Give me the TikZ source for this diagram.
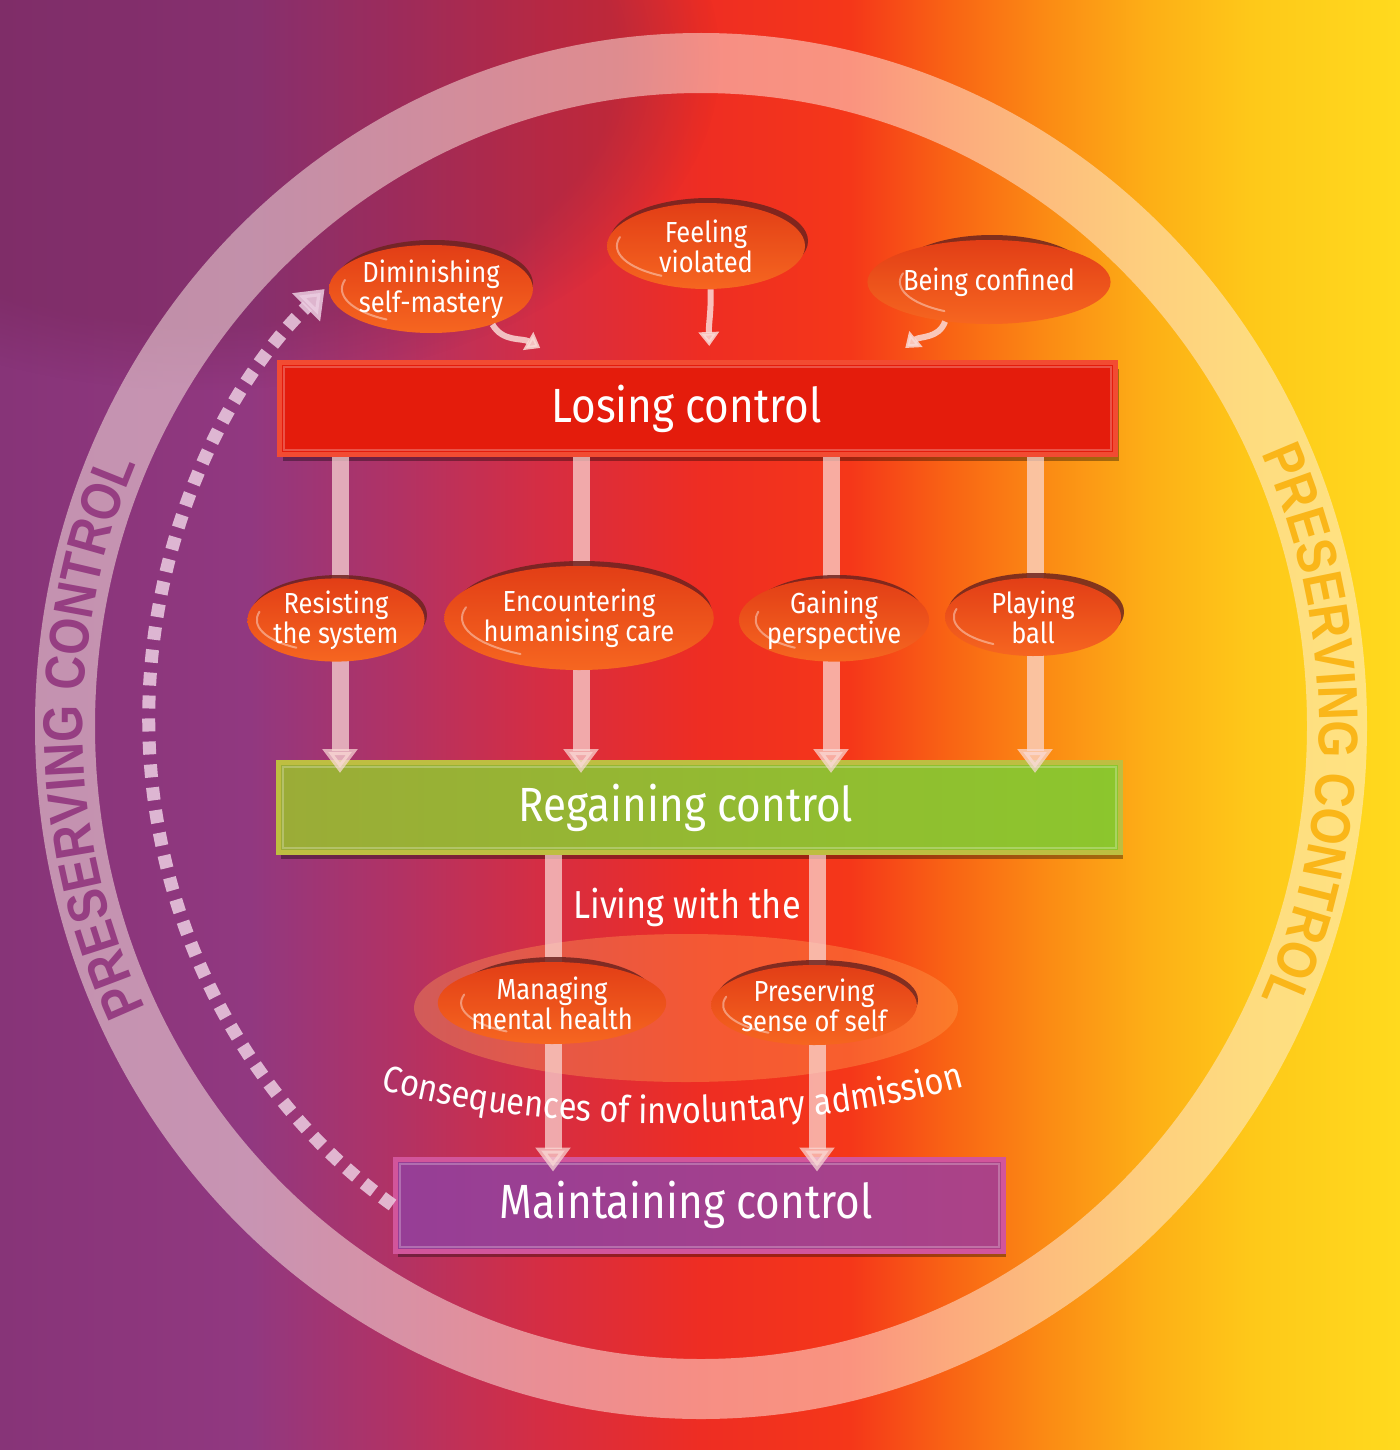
\documentclass[tikz,border=0pt]{standalone}
\usepackage{fontspec}
\setmainfont[FakeStretch=0.88]{Fira Sans}
\newfontfamily\ringfont[FakeStretch=0.85]{Liberation Sans}
\usetikzlibrary{arrows.meta,shapes.geometric,decorations.text,calc,shadows,fadings}

\definecolor{bg0}{RGB}{135,52,120}
\definecolor{bg1}{RGB}{145,56,128}
\definecolor{bg2}{RGB}{178,50,100}
\definecolor{bg3}{RGB}{215,45,65}
\definecolor{bg4}{RGB}{238,45,35}
\definecolor{bg5}{RGB}{245,55,25}
\definecolor{bg6}{RGB}{249,100,20}
\definecolor{bg7}{RGB}{251,140,20}
\definecolor{bg8}{RGB}{253,175,22}
\definecolor{bg9}{RGB}{254,200,25}
\definecolor{bg10}{RGB}{255,218,30}
\definecolor{maroonc}{RGB}{110,30,70}
\definecolor{ringc}{RGB}{255,240,230}
\definecolor{ringtxtL}{RGB}{150,62,130}
\definecolor{ringtxtR}{RGB}{250,182,25}
\definecolor{losefill}{RGB}{228,28,12}
\definecolor{loseedge}{RGB}{242,75,50}
\definecolor{regL}{RGB}{155,172,55}
\definecolor{regR}{RGB}{140,198,45}
\definecolor{regedge}{RGB}{190,190,65}
\definecolor{mainL}{RGB}{150,62,150}
\definecolor{mainR}{RGB}{172,66,135}
\definecolor{mainedge}{RGB}{210,85,155}
\definecolor{pilltop}{RGB}{226,62,22}
\definecolor{pillbot}{RGB}{246,102,32}
\definecolor{pillshadow}{RGB}{110,35,30}
\definecolor{barc}{RGB}{250,218,214}
\definecolor{dashc}{RGB}{236,205,225}
\definecolor{haloc}{RGB}{255,160,80}

\pgfdeclarehorizontalshading{bgshade}{100bp}{color(0bp)=(bg0); color(25bp)=(bg0);
 color(33.93bp)=(bg1); color(39.29bp)=(bg2); color(44.64bp)=(bg3); color(50bp)=(bg4);
 color(55.36bp)=(bg5); color(58.93bp)=(bg6); color(62.5bp)=(bg7); color(66.07bp)=(bg8);
 color(69.64bp)=(bg9); color(75bp)=(bg10); color(100bp)=(bg10)}

\tikzset{
 bigbox/.style={rectangle, inner sep=0pt, line width=2.5pt, text=white,
   font=\fontsize{24pt}{28pt}\selectfont,
   drop shadow={shadow xshift=1.5pt, shadow yshift=-3pt, opacity=.35, fill=black}},
 pill/.style={ellipse, inner sep=0pt, top color=pilltop, bottom color=pillbot,
   text=white, align=center, font=\fontsize{14.5pt}{15pt}\selectfont},
 bar/.style={draw=barc, opacity=.72, line width=8.5pt,
   -{Triangle[width=17pt,length=12pt]}},
 thinarrow/.style={draw=barc, opacity=.85, line width=3pt,
   -{Triangle[width=10pt,length=7pt]}},
 dasharrow/.style={draw=dashc, opacity=.85, line width=6.5pt,
   dash pattern=on 6.5pt off 5pt, -{Triangle[width=19pt,length=13pt]}},
 plaintext/.style={text=white, font=\fontsize{19.5pt}{22pt}\selectfont, inner sep=0pt}
}

\newcommand\pill[6]{%
  \fill[pillshadow, opacity=.85] (#2+3,#3+5) ellipse[x radius=#4, y radius=#5];
  \node[pill, minimum width=#4pt, minimum height=#5pt] (#1) at (#2,#3) {#6};
  \draw[white, opacity=.4, line width=1pt, line cap=round]
    ({#2+0.9*#4*cos(240)}, {#3+0.8*#5*sin(240)})
    arc[start angle=240, end angle=165, x radius={0.9*#4}, y radius={0.8*#5}];
}
\newcommand\bevel[1]{%
  \draw[white, opacity=.25, line width=1pt] ([shift={(7,7)}]#1.south west) rectangle ([shift={(-7,-7)}]#1.north east);
}

\begin{document}
\begin{tikzpicture}[x=0.5pt, y=0.5pt]
\useasboundingbox (0,0) rectangle (1400,-1450);
% background
\fill[shading=bgshade] (0,0) rectangle (1400,-1450);
\fill[maroonc, opacity=.3, path fading=circle with fuzzy edge 20 percent] (200,-60) ellipse[x radius=520, y radius=330];

% ring
\draw[ringc, opacity=.5, line width=30pt] (701,-726) ellipse[x radius=636, y radius=663];
\path[decorate, decoration={text along path, text align=center, text color=ringtxtL,
  text={|\ringfont\bfseries\fontsize{28pt}{28pt}\selectfont|PRESERVING CONTROL}}]
  ({701+618*cos(235)}, {-726+645*sin(235)}) arc[start angle=235, end angle=127, x radius=618, y radius=645];
\path[decorate, decoration={text along path, text align=center, text color=ringtxtR,
  text={|\ringfont\bfseries\fontsize{28pt}{28pt}\selectfont|PRESERVING CONTROL}}]
  ({701+618*cos(55)}, {-726+645*sin(55)}) arc[start angle=55, end angle=-55, x radius=618, y radius=645];

% halo ellipse
\fill[haloc, opacity=.38] (686,-1008) ellipse[x radius=272, y radius=74];

% boxes
\node[bigbox, fill=losefill, draw=loseedge, minimum width=418pt, minimum height=46pt] (lose) at (697.5,-408.5) {Losing control\rule{11pt}{0pt}};
\bevel{lose}
\node[bigbox, left color=regL, right color=regR, draw=regedge, minimum width=421pt, minimum height=45pt] (regain) at (699,-807.5) {Regaining control\rule{13pt}{0pt}};
\bevel{regain}
\node[bigbox, left color=mainL, right color=mainR, draw=mainedge, minimum width=304pt, minimum height=46pt] (maint) at (699,-1205) {Maintaining control\rule{13pt}{0pt}};
\bevel{maint}

% dashed return arrow
\draw[dasharrow] (maint.west) arc[start angle=236, end angle=133, x radius=553, y radius=587];

% pill anchors for bars
\coordinate (cResist) at (340,-620);
\coordinate (cEnc) at (581,-618);
\coordinate (cGain) at (831,-620);
\coordinate (cPlay) at (1035,-617);
\coordinate (cMan) at (553,-1003);
\coordinate (cPres) at (817,-1005);

% vertical bars
\foreach \c in {cResist,cEnc,cGain,cPlay}{
  \draw[bar] (lose.south -| \c) -- ($(regain.north -| \c)+(0,-13)$);
}
\foreach \c in {cMan,cPres}{
  \draw[bar] (regain.south -| \c) -- ($(maint.north -| \c)+(0,-15)$);
}

% pills
\pill{dimin}{431}{-289}{99}{44}{Diminishing\\self-mastery}
\pill{feel}{706}{-246}{99}{43}{Feeling\\violated}
\pill{conf}{989}{-282}{99}{42}{Being confined}
\pill{resist}{336}{-620}{88}{40}{Resisting\\the system}
\pill{enc}{579}{-618}{130}{52}{Encountering\\humanising care}
\pill{gain}{834}{-620}{87}{40}{Gaining\\perspective}
\pill{play}{1033}{-617}{88}{39}{Playing\\ball}
\pill{manage}{552}{-1003}{101}{41}{Managing\\mental health}
\pill{presv}{814}{-1005}{101}{40}{Preserving\\sense of self}

% small arrows into Losing control
\draw[thinarrow] (dimin.-30) to[out=-60, in=150] ($(lose.north west)!0.313!(lose.north east)+(0,12)$);
\draw[thinarrow] (feel.-84) to[out=-88, in=92] ($(lose.north west)!0.514!(lose.north east)+(0,14)$);
\draw[thinarrow] (conf.222) to[out=-110, in=40] ($(lose.north west)!0.747!(lose.north east)+(0,12)$);

% texts
\node[plaintext] (living) at (687,-907) {Living with the};
\path[decorate, decoration={text along path, text align=center, text color=white,
  text={|\fontsize{18.5pt}{21pt}\selectfont|Consequences of involuntary admission}}]
  (370,-1086) .. controls (520,-1132) and (785,-1140) .. (975,-1084);
\end{tikzpicture}
\end{document}
